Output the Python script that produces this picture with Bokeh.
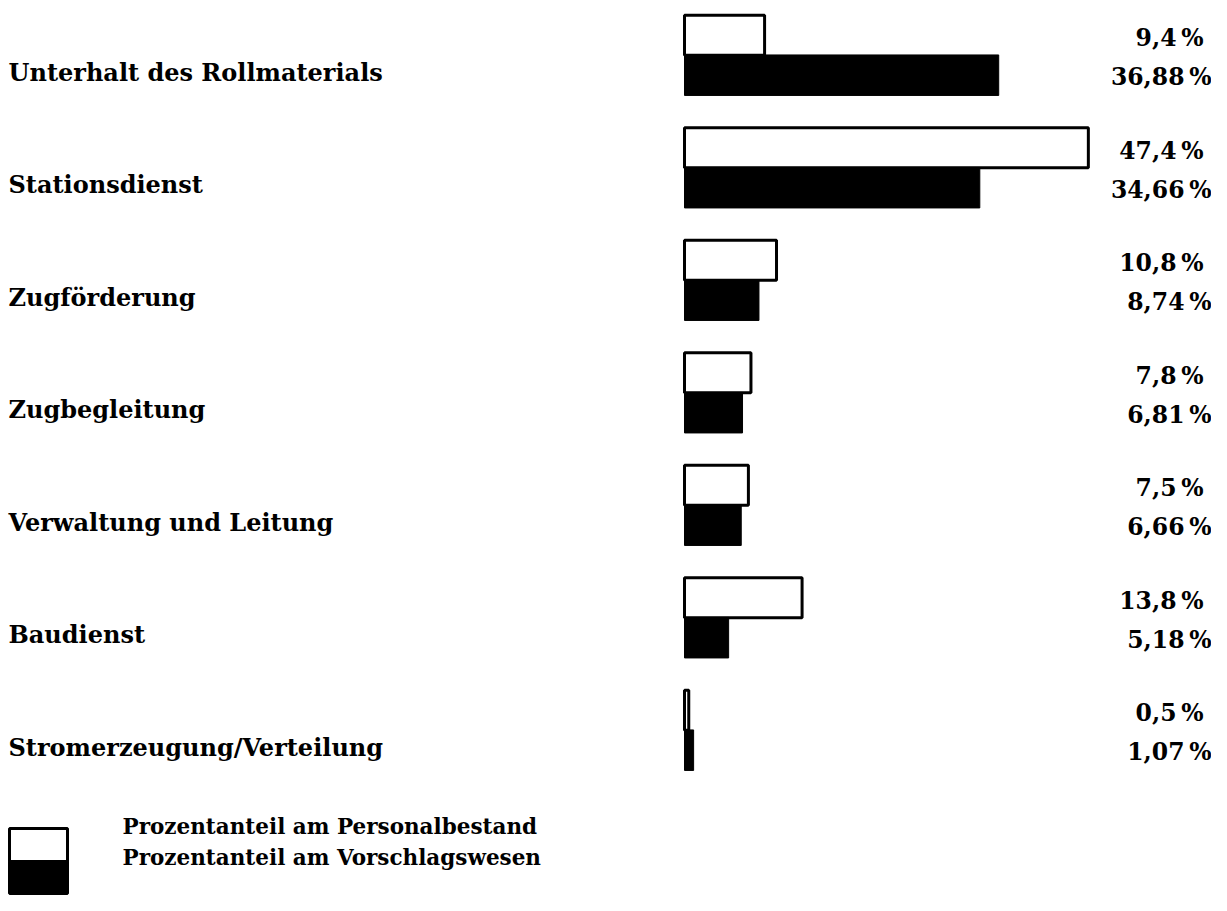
from bokeh.plotting import figure
from bokeh.models import Range1d, ColumnDataSource
from bokeh.core.properties import value
from bokeh.embed import file_html
from bokeh.resources import INLINE

categories = ["Unterhalt des Rollmaterials", "Stationsdienst", "Zugförderung",
              "Zugbegleitung", "Verwaltung und Leitung", "Baudienst",
              "Stromerzeugung/Verteilung"]
personal = [9.4, 47.4, 10.8, 7.8, 7.5, 13.8, 0.5]
vorschlag = [36.88, 34.66, 8.74, 6.81, 6.66, 5.18, 1.07]
personal_labels = ["9,4\u2009%", "47,4\u2009%", "10,8\u2009%", "7,8\u2009%",
                   "7,5\u2009%", "13,8\u2009%", "0,5\u2009%"]
vorschlag_labels = ["36,88\u2009%", "34,66\u2009%", "8,74\u2009%", "6,81\u2009%",
                    "6,66\u2009%", "5,18\u2009%", "1,07\u2009%"]
legend_labels = ["Prozentanteil am Personalbestand", "Prozentanteil am Vorschlagswesen"]

W, H = 1211, 895
X0 = 684.0        # canvas px of 0 %
PXU = 8.52        # px per percent
Y0 = 55.0         # canvas px of first group's center
PYU = 112.5       # px per group

x_start = -X0 / PXU
x_end = (W - X0) / PXU
y_top = -Y0 / PYU
y_bot = (H - Y0) / PYU

def px(c):
    return x_start + c / PXU

def py(c):
    return y_top + c / PYU

FONT = value("DejaVu Serif")

p = figure(width=W, height=H, output_backend="svg", toolbar_location=None,
           x_range=Range1d(x_start, x_end), y_range=Range1d(y_bot, y_top),
           min_border=0, border_fill_color="white", background_fill_color="white")
p.axis.visible = False
p.grid.visible = False
p.outline_line_color = None

idx = list(range(len(categories)))
src = ColumnDataSource(dict(
    idx=idx,
    cat=categories,
    personal=personal,
    vorschlag=vorschlag,
    pl=personal_labels,
    vl=vorschlag_labels,
    y_white=[i - 0.18 for i in idx],
    y_black=[i + 0.175 for i in idx],
    y_cat=[i + 0.15 for i in idx],
    y_pl=[i - 0.155 for i in idx],
    y_vl=[i + 0.195 for i in idx],
))

p.hbar(y="y_white", left=0, right="personal", height=0.355, source=src,
       fill_color="white", line_color="black", line_width=3)
p.hbar(y="y_black", left=0, right="vorschlag", height=0.36, source=src,
       fill_color="black", line_color="black", line_width=1)

label_x = px(8)
p.text(x=label_x, y="y_cat", text="cat", source=src, text_font=FONT,
       text_font_style="bold", text_font_size="24px", text_baseline="middle",
       text_align="left", text_color="black")

p.text(x=px(1203), y="y_pl", text="pl", source=src, text_font=FONT,
       text_font_style="bold", text_font_size="23.5px", text_baseline="middle",
       text_align="right", text_color="black")
p.text(x=px(1211), y="y_vl", text="vl", source=src, text_font=FONT,
       text_font_style="bold", text_font_size="23.5px", text_baseline="middle",
       text_align="right", text_color="black")

# legend swatch and texts
p.quad(left=[px(9), px(9)], right=[px(67), px(67)],
       top=[py(828), py(861)], bottom=[py(861), py(893)],
       fill_color=["white", "black"], line_color="black", line_width=3)
p.text(x=[px(122), px(122)], y=[py(826), py(857)], text=legend_labels,
       text_font=FONT, text_font_style="bold", text_font_size="21.5px",
       text_baseline="middle", text_align="left", text_color="black")

open("out.html", "w").write(file_html(p, INLINE))
